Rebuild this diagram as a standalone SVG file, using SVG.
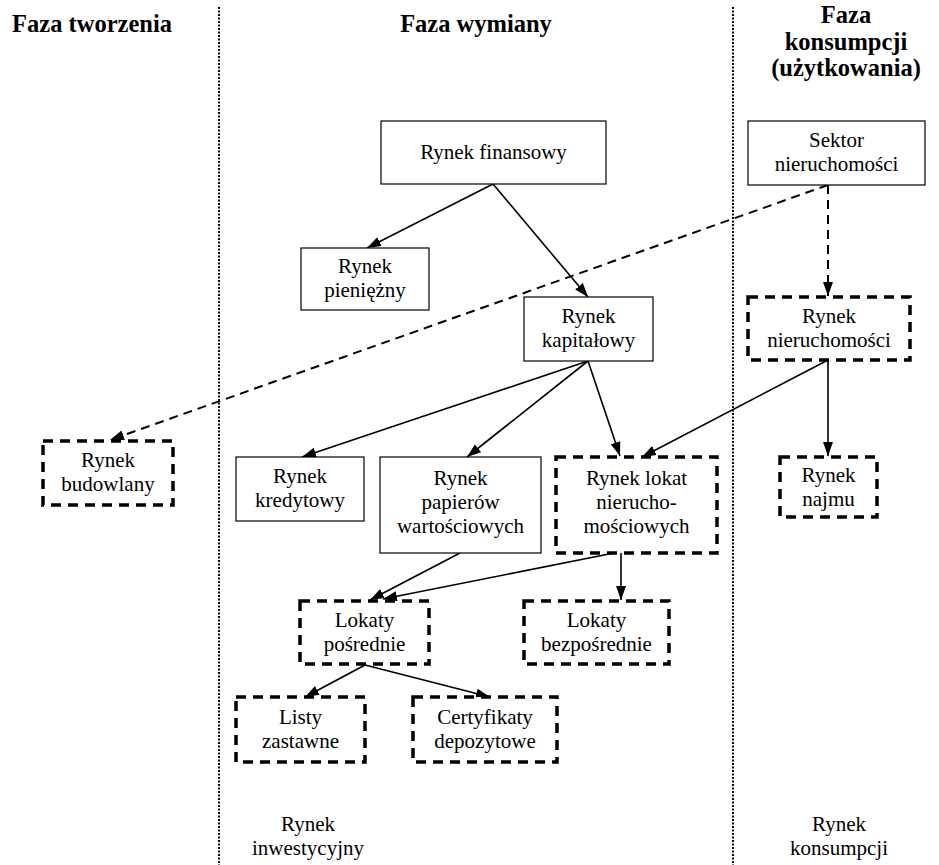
<svg xmlns="http://www.w3.org/2000/svg" width="939" height="865" viewBox="0 0 939 865">
<style>
text{font-family:"Liberation Serif","Times New Roman",serif;font-size:21px;fill:#000;text-anchor:middle}
.h{font-weight:bold;font-size:24.5px}
.solid{fill:#fff;stroke:#000;stroke-width:1.2}
.dash{fill:#fff;stroke:#000;stroke-width:3.5;stroke-dasharray:10 7}
.sep{stroke:#000;stroke-width:2;stroke-dasharray:2 1.5;fill:none}
.c{stroke:#000;stroke-width:1.6;fill:none;marker-end:url(#ah)}
.cd{stroke:#000;stroke-width:2;fill:none;stroke-dasharray:9 6;marker-end:url(#ah)}
</style>
<defs>
<marker id="ah" markerUnits="userSpaceOnUse" markerWidth="15" markerHeight="11" refX="14" refY="5.5" orient="auto">
<path d="M0,0.5 L14,5.5 L0,10.5 z" fill="#000" stroke="none"/>
</marker>
</defs>
<rect width="939" height="865" fill="#fff"/>
<g id="separators">
<line class="sep" x1="219" y1="7" x2="219" y2="865"/>
<line class="sep" x1="733" y1="7" x2="733" y2="865"/>
</g>
<g id="headers">
<text class="h" x="92" y="32">Faza tworzenia</text>
<text class="h" x="476" y="32">Faza wymiany</text>
<text class="h" x="846" y="23">Faza</text>
<text class="h" x="846" y="50">konsumpcji</text>
<text class="h" x="846" y="76">(użytkowania)</text>
</g>
<g id="connectors">
<line class="c" x1="493" y1="184" x2="367" y2="248"/>
<line class="c" x1="493" y1="184" x2="588" y2="297"/>
<line class="cd" x1="828" y1="185" x2="110" y2="440"/>
<line class="cd" x1="828" y1="185" x2="828" y2="296"/>
<line class="c" x1="588" y1="361" x2="302" y2="457"/>
<line class="c" x1="588" y1="361" x2="467" y2="457"/>
<line class="c" x1="588" y1="361" x2="620" y2="456"/>
<line class="c" x1="828" y1="360" x2="642" y2="457"/>
<line class="c" x1="828" y1="360" x2="828" y2="456"/>
<line class="c" x1="460" y1="553" x2="370" y2="600"/>
<line class="c" x1="614" y1="553" x2="383" y2="599"/>
<line class="c" x1="621" y1="553" x2="621" y2="600"/>
<line class="c" x1="365" y1="665" x2="305" y2="697"/>
<line class="c" x1="365" y1="665" x2="490" y2="697"/>
</g>
<g id="rynek-finansowy">
<rect class="solid" x="381" y="121" width="225" height="63"/>
<text x="493.5" y="159">Rynek finansowy</text>
</g>
<g id="sektor-nieruchomosci">
<rect class="solid" x="748" y="121" width="177" height="64"/>
<text x="836.5" y="147">Sektor</text>
<text x="836.5" y="171">nieruchomości</text>
</g>
<g id="rynek-pieniezny">
<rect class="solid" x="301" y="248" width="128" height="62"/>
<text x="365" y="273">Rynek</text>
<text x="365" y="297">pieniężny</text>
</g>
<g id="rynek-kapitalowy">
<rect class="solid" x="524" y="297" width="129" height="64"/>
<text x="588.5" y="323">Rynek</text>
<text x="588.5" y="347">kapitałowy</text>
</g>
<g id="rynek-nieruchomosci">
<rect class="dash" x="748" y="297" width="162" height="63"/>
<text x="829" y="323">Rynek</text>
<text x="829" y="347">nieruchomości</text>
</g>
<g id="rynek-budowlany">
<rect class="dash" x="43" y="441" width="130" height="64"/>
<text x="108" y="467">Rynek</text>
<text x="108" y="491">budowlany</text>
</g>
<g id="rynek-kredytowy">
<rect class="solid" x="236" y="457" width="128" height="64"/>
<text x="300" y="483">Rynek</text>
<text x="300" y="507">kredytowy</text>
</g>
<g id="rynek-papierow">
<rect class="solid" x="380" y="457" width="161" height="96"/>
<text x="460.5" y="485">Rynek</text>
<text x="460.5" y="509">papierów</text>
<text x="460.5" y="533">wartościowych</text>
</g>
<g id="rynek-lokat">
<rect class="dash" x="556" y="457" width="161" height="96"/>
<text x="636.5" y="485">Rynek lokat</text>
<text x="636.5" y="509">nierucho-</text>
<text x="636.5" y="533">mościowych</text>
</g>
<g id="rynek-najmu">
<rect class="dash" x="780" y="457" width="97" height="60"/>
<text x="828.5" y="482">Rynek</text>
<text x="828.5" y="506">najmu</text>
</g>
<g id="lokaty-posrednie">
<rect class="dash" x="300" y="601" width="129" height="63"/>
<text x="364.5" y="627">Lokaty</text>
<text x="364.5" y="651">pośrednie</text>
</g>
<g id="lokaty-bezposrednie">
<rect class="dash" x="524" y="601" width="145" height="63"/>
<text x="596.5" y="627">Lokaty</text>
<text x="596.5" y="651">bezpośrednie</text>
</g>
<g id="listy-zastawne">
<rect class="dash" x="236" y="697" width="129" height="65"/>
<text x="300.5" y="724">Listy</text>
<text x="300.5" y="748">zastawne</text>
</g>
<g id="certyfikaty">
<rect class="dash" x="413" y="697" width="144" height="65"/>
<text x="485" y="724">Certyfikaty</text>
<text x="485" y="748">depozytowe</text>
</g>
<g id="footer">
<text x="308" y="831">Rynek</text>
<text x="308" y="855">inwestycyjny</text>
<text x="839" y="831">Rynek</text>
<text x="839" y="855">konsumpcji</text>
</g>
</svg>
